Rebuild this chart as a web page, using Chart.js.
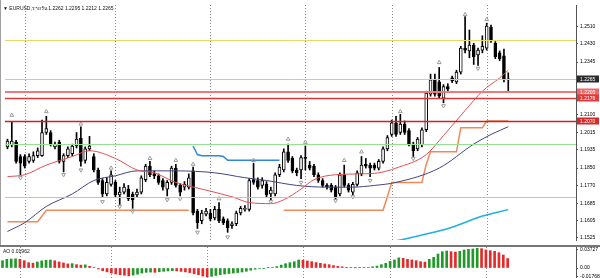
<!DOCTYPE html>
<html>
<head>
<meta charset="utf-8">
<title>EURUSD Daily</title>
<script src="https://cdn.jsdelivr.net/npm/chart.js@4.4.1/dist/chart.umd.min.js"></script>
<style>
  html, body { margin: 0; padding: 0; background: #fff; }
  #wrap { position: relative; width: 600px; height: 278px; overflow: hidden; font-family: "Liberation Sans", Arial, sans-serif; }
  #main { position: absolute; left: 0; top: 0; }
  #ao   { position: absolute; left: 0; top: 247px; }
  #sep  { position: absolute; left: 0; top: 245px; width: 600px; height: 2px; background: #767676; }
  #lb   { position: absolute; left: 0; top: 0; width: 1px; height: 245px; background: #a0a0a0; }
  .lbl  { position: absolute; font-size: 5px; color: #111; white-space: nowrap; line-height: 6px; }
</style>
</head>
<body>
<div id="wrap">
  <canvas id="main" width="600" height="245"></canvas>
  <div id="lb"></div>
  <div id="sep"></div>
  <canvas id="ao" width="600" height="31"></canvas>
  <div class="lbl" style="left:3px;top:5px">▼ EURUSD,รายวัน 1.2262 1.2295 1.2212 1.2265</div>
  <div class="lbl" style="left:3px;top:248px">AO 0.01962</div>
</div>
<script>
/* ── EURUSD daily — candles, MAs, fractals, AO ─────────── */

// ── Candles, oldest → newest ─────────────────────────────
const opens = [
  1.1949,1.1958,1.1971,1.1904,1.1904,1.1881,1.1886,1.1908,1.1908,1.2016,
  1.2016,1.1949,1.1971,1.1881,1.1908,1.1917,1.1953,1.1989,1.1886,1.1940,
  1.1904,1.1841,1.1792,1.1729,1.1774,1.1783,1.1725,1.1738,1.1752,1.1729,
  1.1725,1.1738,1.1796,1.1859,1.1823,1.1814,1.1792,1.1752,1.1783,1.1850,
  1.1769,1.1761,1.1761,1.1837,1.1649,1.1604,1.1635,1.1640,1.1617,1.1657,
  1.1613,1.1604,1.1581,1.1590,1.1640,1.1657,1.1657,1.1796,1.1792,1.1769,
  1.1774,1.1729,1.1729,1.1819,1.1841,1.1926,1.1895,1.1841,1.1841,1.1899,
  1.1864,1.1859,1.1819,1.1792,1.1769,1.1769,1.1761,1.1729,1.1819,1.1769,
  1.1738,1.1774,1.1823,1.1868,1.1864,1.1864,1.1850,1.1881,1.1940,1.2007,
  1.2061,1.2016,1.2056,1.2025,1.1962,1.1940,1.1958,1.2029,1.2195,1.2262,
  1.2253,1.2177,1.2231,1.2271,1.2253,1.2298,1.2410,1.2397,1.2424,1.2379,
  1.2401,1.2410,1.2509,1.2433,1.2388,1.2374,1.2262
];
const highs = [
  1.1985,1.2065,1.1980,1.1913,1.1913,1.1917,1.1926,1.1944,1.2074,1.2092,
  1.2025,1.1971,1.1980,1.1917,1.1949,1.1962,1.2016,1.2043,1.1949,1.1998,
  1.1917,1.1850,1.1801,1.1805,1.1837,1.1792,1.1761,1.1778,1.1769,1.1738,
  1.1752,1.1814,1.1868,1.1881,1.1837,1.1823,1.1801,1.1792,1.1859,1.1868,
  1.1778,1.1787,1.1823,1.1855,1.1657,1.1653,1.1662,1.1657,1.1671,1.1689,
  1.1622,1.1613,1.1599,1.1649,1.1671,1.1675,1.1801,1.1873,1.1805,1.1805,
  1.1787,1.1761,1.1828,1.1868,1.1940,1.1962,1.1904,1.1850,1.1908,1.1953,
  1.1881,1.1868,1.1828,1.1801,1.1778,1.1778,1.1769,1.1828,1.1864,1.1778,
  1.1783,1.1837,1.1904,1.1895,1.1873,1.1873,1.1890,1.1949,1.2002,1.2074,
  1.2092,1.2101,1.2070,1.2034,1.1971,1.1993,1.2038,1.2209,1.2289,1.2289,
  1.2320,1.2240,1.2244,1.2280,1.2307,1.2419,1.2558,1.2495,1.2433,1.2410,
  1.2468,1.2527,1.2518,1.2441,1.2397,1.2406,1.2295
];
const lows = [
  1.1940,1.1949,1.1873,1.1819,1.1850,1.1873,1.1877,1.1899,1.1904,1.2007,
  1.1953,1.1940,1.1873,1.1832,1.1899,1.1908,1.1944,1.1859,1.1873,1.1931,
  1.1832,1.1774,1.1716,1.1720,1.1765,1.1716,1.1680,1.1729,1.1698,1.1662,
  1.1716,1.1729,1.1787,1.1810,1.1801,1.1774,1.1747,1.1720,1.1774,1.1761,
  1.1720,1.1747,1.1752,1.1631,1.1568,1.1590,1.1626,1.1604,1.1608,1.1595,
  1.1586,1.1550,1.1568,1.1581,1.1631,1.1649,1.1649,1.1774,1.1752,1.1756,
  1.1716,1.1702,1.1720,1.1810,1.1832,1.1877,1.1828,1.1814,1.1801,1.1841,
  1.1841,1.1810,1.1783,1.1761,1.1752,1.1738,1.1707,1.1720,1.1761,1.1738,
  1.1725,1.1765,1.1814,1.1850,1.1810,1.1841,1.1841,1.1873,1.1931,1.1998,
  1.1998,1.2007,1.2007,1.1953,1.1904,1.1931,1.1949,1.2020,1.2186,1.2186,
  1.2177,1.2155,1.2209,1.2249,1.2244,1.2289,1.2388,1.2365,1.2334,1.2329,
  1.2388,1.2401,1.2437,1.2361,1.2352,1.2253,1.2212
];
const closes = [
  1.1976,1.1976,1.1881,1.1873,1.1859,1.1904,1.1908,1.1931,1.2016,1.2034,
  1.1962,1.1962,1.1881,1.1908,1.1940,1.1953,1.1985,1.1881,1.1940,1.1953,
  1.1841,1.1783,1.1729,1.1783,1.1819,1.1725,1.1738,1.1761,1.1707,1.1702,
  1.1738,1.1805,1.1859,1.1819,1.1814,1.1783,1.1761,1.1783,1.1850,1.1769,
  1.1738,1.1774,1.1805,1.1640,1.1595,1.1640,1.1649,1.1613,1.1657,1.1604,
  1.1595,1.1572,1.1590,1.1640,1.1662,1.1662,1.1792,1.1783,1.1761,1.1792,
  1.1725,1.1747,1.1819,1.1855,1.1926,1.1886,1.1837,1.1828,1.1899,1.1895,
  1.1850,1.1819,1.1792,1.1769,1.1761,1.1747,1.1716,1.1819,1.1769,1.1747,
  1.1774,1.1828,1.1864,1.1859,1.1850,1.1850,1.1881,1.1940,1.1993,1.2061,
  1.2007,1.2056,1.2016,1.1962,1.1931,1.1985,1.2029,1.2200,1.2262,1.2195,
  1.2186,1.2231,1.2218,1.2258,1.2298,1.2410,1.2401,1.2424,1.2370,1.2401,
  1.2419,1.2513,1.2446,1.2370,1.2361,1.2262,1.2265
];

// ── Moving averages [bar, price] ───
const maFast = [[0,1.1810],[4,1.1819],[9,1.1864],[15,1.1904],[19,1.1931],[25,1.1895],[30,1.1841],
  [34,1.1828],[39,1.1783],[45,1.1752],[52,1.1716],[56,1.1689],[61,1.1684],[64,1.1702],[68,1.1752],
  [71,1.1796],[76,1.1819],[82,1.1823],[86,1.1828],[90,1.1850],[97,1.1913],[101,1.2002],[106,1.2119],
  [110,1.2209],[114,1.2271],[116,1.2307]];
const maSlow = [[0,1.1554],[4,1.1595],[9,1.1671],[15,1.1729],[20,1.1792],[25,1.1814],[30,1.1837],
  [39,1.1837],[48,1.1828],[55,1.1805],[60,1.1792],[67,1.1769],[74,1.1761],[80,1.1761],[85,1.1769],
  [90,1.1783],[100,1.1850],[108,1.1962],[112,1.2007],[116,1.2043]];
const maLong = [[86,1.1496],[91,1.1514],[96,1.1537],[103,1.1574],[110,1.1626],[116,1.1656]];

// ── Trailing stop: below price (up) / above price (down) ─
const stopUp = [
  1.1599,1.1599,1.1599,1.1599,1.1599,1.1599,1.1599,1.1599,1.1626,1.1653,
  1.1653,1.1653,1.1653,1.1653,1.1653,1.1653,1.1653,1.1653,1.1653,1.1653,
  1.1653,1.1653,1.1653,1.1653,1.1653,1.1653,1.1653,1.1653,1.1653,1.1653,
  1.1653,1.1653,1.1653,1.1653,1.1653,1.1653,1.1653,1.1653,1.1653,1.1653,
  1.1653,1.1653,1.1653,null,null,null,null,null,null,null,
  null,null,null,null,null,null,null,null,null,null,
  null,null,null,null,1.1653,1.1653,1.1653,1.1653,1.1653,1.1653,
  1.1653,1.1653,1.1653,1.1653,1.1653,1.1653,1.1653,1.1653,1.1653,1.1653,
  1.1653,1.1653,1.1653,1.1653,1.1653,1.1653,1.1653,1.1653,1.1716,1.1783,
  1.1783,1.1783,1.1783,1.1783,1.1783,1.1783,1.1783,1.1868,1.1926,1.1926,
  1.1926,1.1926,1.1926,1.1926,1.1926,1.2038,1.2038,1.2038,1.2038,1.2038,
  1.2038,1.2070,1.2070,1.2070,1.2070,1.2070,1.2070
];
const stopDown = [
  null,null,null,null,null,null,null,null,null,null,
  null,null,null,null,null,null,null,null,null,null,
  null,null,null,null,null,null,null,null,null,null,
  null,null,null,null,null,null,null,null,null,null,
  null,null,null,1.1953,1.1913,1.1908,1.1908,1.1908,1.1908,1.1908,
  1.1904,1.1886,1.1886,1.1886,1.1886,1.1886,1.1886,1.1886,1.1886,1.1886,
  1.1886,1.1886,1.1886,1.1886
];

// ── Fractal marks [bar, price] ───────────────────────────
const fractalUp = [[1,1.2097],[9,1.2114],[17,1.2056],[24,1.1850],[33,1.1895],[39,1.1886],[43,1.1868],
  [49,1.1707],[57,1.1886],[65,1.1985],[69,1.1971],[78,1.1886],[82,1.1926],[91,1.2114],[100,1.2343],
  [106,1.2567],[111,1.2544]];
const fractalDown = [[3,1.1805],[13,1.1819],[17,1.1841],[22,1.1693],[26,1.1671],[29,1.1649],[37,1.1702],
  [40,1.1707],[44,1.1550],[51,1.1528],[61,1.1693],[68,1.1783],[76,1.1698],[80,1.1716],[84,1.1792],
  [94,1.1895],[101,1.2141],[109,1.2316]];

// ── Awesome Oscillator ───────────────────────────────────
const aoValues = [
  0.0151,0.0180,0.0186,0.0190,0.0180,0.0151,0.0110,0.0100,0.0125,0.0148,
  0.0160,0.0165,0.0150,0.0125,0.0105,0.0085,0.0090,0.0070,0.0060,0.0065,
  0.0035,0.0012,-0.0020,-0.0055,-0.0080,-0.0105,-0.0125,-0.0140,-0.0150,-0.0162,
  -0.0148,-0.0128,-0.0105,-0.0090,-0.0085,-0.0090,-0.0078,-0.0068,-0.0060,-0.0055,
  -0.0060,-0.0070,-0.0080,-0.0095,-0.0120,-0.0140,-0.0166,-0.0179,-0.0172,-0.0155,
  -0.0138,-0.0125,-0.0115,-0.0105,-0.0095,-0.0083,-0.0068,-0.0045,-0.0025,-0.0012,
  -0.0008,0.0005,0.0012,0.0030,0.0060,0.0090,0.0110,0.0130,0.0166,0.0160,
  0.0145,0.0131,0.0112,0.0097,0.0083,0.0069,0.0050,0.0035,0.0025,0.0015,
  0.0008,0.0004,0.0006,0.0008,0.0012,0.0025,0.0040,0.0069,0.0097,0.0138,
  0.0166,0.0210,0.0200,0.0180,0.0166,0.0152,0.0131,0.0124,0.0180,0.0221,
  0.0290,0.0338,0.0352,0.0338,0.0330,0.0345,0.0373,0.0387,0.0393,0.0407,
  0.0400,0.0373,0.0359,0.0345,0.0317,0.0269,0.01962
];

// ── Axes, levels, month separators ───────────────────────
const priceTicks  = [1.2510,1.2430,1.2345,1.2100,1.2015,1.1935,1.1850,1.1770,1.1685,1.1605,1.1525];
const boxedPrices = [1.2265,1.2205,1.2176,1.2070];
const levelPrices = [1.2447,1.2265,1.2205,1.2176,1.2070,1.1962,1.1716];
const aoTicks     = [0.03727,0,-0.01768];
const monthStartIdx = [4,25,47,69,89,111];

// styles kept apart from the values
const levelStyles = [
  { color: '#e6d766', width: 1 }, { color: '#c8c8c8', width: 1 }, { color: '#f07a7a', width: 2 },
  { color: '#d83838', width: 1.5 }, { color: '#cc2222', width: 1.5 }, { color: '#94e094', width: 1 },
  { color: '#86d8ee', width: 1 }
];
const boxColors = ['#2b2b2b', '#f06868', '#e03c3c', '#d42a2a'];
const FONT = '"Liberation Sans", Arial, sans-serif';
const X_MIN = -0.574, X_MAX = 131.69;

// ── Plugins ──────────────────────────────────────────────
const monthLines = {
  id: 'monthLines',
  beforeDatasetsDraw(chart) {
    const { ctx, chartArea: a, scales: { x } } = chart;
    ctx.save();
    ctx.strokeStyle = '#8a8a8a';
    ctx.lineWidth = 1;
    ctx.setLineDash([1, 2]);
    monthStartIdx.forEach(i => {
      const px = Math.round(x.getPixelForValue(i)) + 0.5;
      ctx.beginPath(); ctx.moveTo(px, a.top); ctx.lineTo(px, a.bottom); ctx.stroke();
    });
    ctx.restore();
  }
};

const levelLines = {
  id: 'levelLines',
  afterDatasetsDraw(chart) {
    const { ctx, chartArea: a, scales: { y } } = chart;
    ctx.save();
    levelPrices.forEach((p, k) => {
      const st = levelStyles[k];
      const py = Math.round(y.getPixelForValue(p)) + (st.width % 2 ? 0.5 : 0);
      ctx.strokeStyle = st.color;
      ctx.lineWidth = st.width;
      ctx.beginPath(); ctx.moveTo(a.left, py); ctx.lineTo(a.right, py); ctx.stroke();
    });
    ctx.restore();
  }
};

const priceBoxes = {
  id: 'priceBoxes',
  afterDraw(chart) {
    const { ctx, chartArea: a, scales: { y } } = chart;
    ctx.save();
    ctx.font = '5px ' + FONT;
    ctx.textBaseline = 'middle';
    boxedPrices.forEach((p, k) => {
      const py = Math.round(y.getPixelForValue(p));
      ctx.fillStyle = boxColors[k];
      ctx.fillRect(a.right + 1, py - 3.5, chart.width - a.right - 2, 7);
      ctx.fillStyle = '#fff';
      ctx.fillText(p.toFixed(4), a.right + 4, py + 0.5);
    });
    ctx.restore();
  }
};

// ── Shared axis helpers ──────────────────────────────────
function rightAxis(min, max, ticks, fmt) {
  return {
    position: 'right', min, max,
    grid: { display: true, drawOnChartArea: false, tickLength: 2, color: '#555' },
    border: { display: true, color: '#555' },
    ticks: { font: { size: 5, family: FONT }, color: '#000', padding: 2, autoSkip: false, callback: fmt },
    afterBuildTicks: s => { s.ticks = ticks.map(v => ({ value: v })); },
    afterFit: s => { s.width = 24; s.paddingTop = 0; s.paddingBottom = 0; }
  };
}
const xAxis = { type: 'linear', min: X_MIN, max: X_MAX, display: false, offset: false };

// ── Main price chart ─────────────────────────────────────
const bars = opens.map((_, i) => i);
const pts  = arr => arr.map(([x, y]) => ({ x, y }));
const perBar = arr => arr.map((y, x) => ({ x, y }));

new Chart(document.getElementById('main'), {
  type: 'bar',
  data: {
    datasets: [
      { type: 'line', data: pts(fractalUp), showLine: false, pointStyle: 'triangle', pointRadius: 2.2,
        pointBorderColor: '#9c9c9c', pointBackgroundColor: 'rgba(0,0,0,0)', pointBorderWidth: 1, order: 0 },
      { type: 'line', data: pts(fractalDown), showLine: false, pointStyle: 'triangle', rotation: 180, pointRadius: 2.2,
        pointBorderColor: '#9c9c9c', pointBackgroundColor: 'rgba(0,0,0,0)', pointBorderWidth: 1, order: 0 },
      { type: 'line', data: pts(maFast), borderColor: '#e35050', borderWidth: 1, pointRadius: 0,
        cubicInterpolationMode: 'monotone', order: 1 },
      { type: 'line', data: pts(maSlow), borderColor: '#44447e', borderWidth: 1, pointRadius: 0,
        cubicInterpolationMode: 'monotone', order: 1 },
      { type: 'line', data: pts(maLong), borderColor: '#22aee0', borderWidth: 1.5, pointRadius: 0,
        cubicInterpolationMode: 'monotone', order: 1 },
      { type: 'line', data: perBar(stopUp), borderColor: '#f08a5a', borderWidth: 1.5, pointRadius: 0,
        spanGaps: false, order: 1 },
      { type: 'line', data: perBar(stopDown), borderColor: '#2f86d6', borderWidth: 1.5, pointRadius: 0,
        spanGaps: false, order: 1 },
      { data: bars.map(i => ({ x: i, y: [opens[i], closes[i]] })),
        backgroundColor: bars.map(i => closes[i] >= opens[i] ? '#ffffff' : '#000000'),
        borderColor: '#000', borderWidth: 1, borderSkipped: false, barThickness: 3, minBarLength: 1,
        grouped: false, order: 2 },
      { data: bars.map(i => ({ x: i, y: [lows[i], highs[i]] })),
        backgroundColor: '#000', borderWidth: 0, barThickness: 1, grouped: false, order: 3 }
    ]
  },
  options: {
    responsive: false, animation: false, events: [],
    layout: { padding: 0 },
    plugins: { legend: { display: false }, tooltip: { enabled: false } },
    scales: { x: xAxis, y: rightAxis(1.15141, 1.26117, priceTicks, v => v.toFixed(4)) }
  },
  plugins: [monthLines, levelLines, priceBoxes]
});

// ── AO sub-window ────────────────────────────────────────
new Chart(document.getElementById('ao'), {
  type: 'bar',
  data: {
    datasets: [{
      data: aoValues.map((v, i) => ({ x: i, y: v })),
      backgroundColor: aoValues.map((v, i) => i > 0 && v < aoValues[i - 1] ? '#e42a2a' : '#1f9a2a'),
      barThickness: 2, grouped: false
    }]
  },
  options: {
    responsive: false, animation: false, events: [],
    layout: { padding: 0 },
    plugins: { legend: { display: false }, tooltip: { enabled: false } },
    scales: { x: xAxis, y: rightAxis(-0.0207, 0.04348, aoTicks, v => v === 0 ? '0.00' : v.toFixed(5)) }
  },
  plugins: [monthLines]
});
</script>
</body>
</html>
